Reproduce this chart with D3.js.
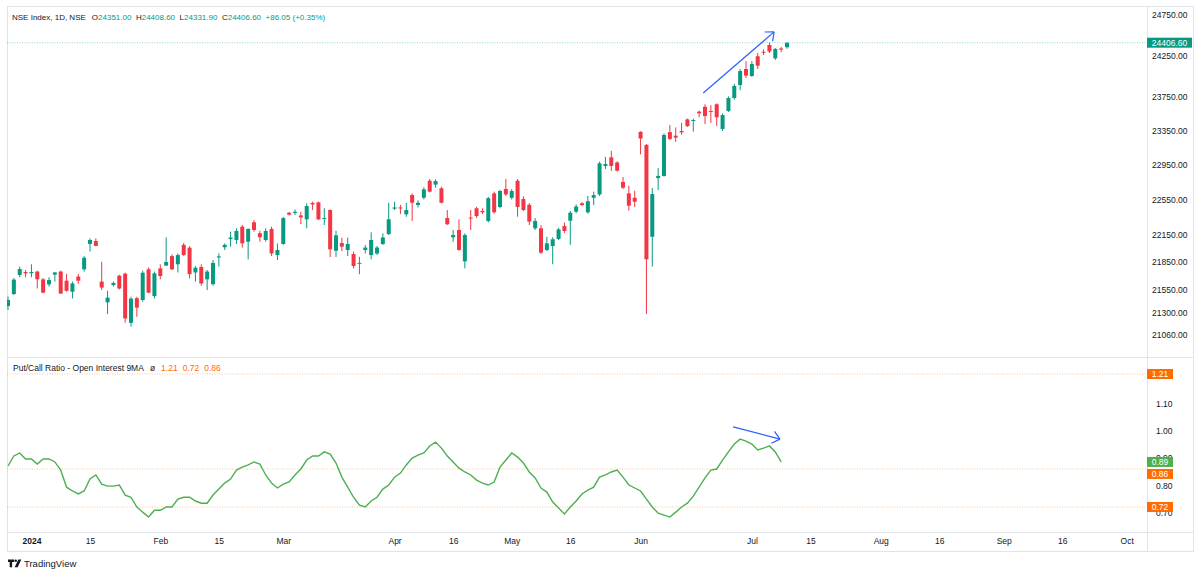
<!DOCTYPE html>
<html>
<head>
<meta charset="utf-8">
<script src="https://cdn.jsdelivr.net/npm/d3@7"></script>
<style>
  body { margin: 0; background: #fff; }
  svg text { font-family: "Liberation Sans", Arial, sans-serif; fill: #131722; }
</style>
</head>
<body>
<svg id="chart" width="1200" height="576"></svg>
<script>
// NSE Index daily bars, Dec 26 2023 .. Jul 9 2024
var opens = [21370,21500,21707,21740,21727,21745,21660,21605,21712,21745,21645,21525,21690,21770,22050,22083,21635,21410,21598,21700,
  21722,21190,21455,21435,21770,21478,21780,21810,21915,21825,22040,22008,21735,21795,21660,21607,21900,22013,22104,22094,
  22243,22075,22292,22170,22094,22218,21927,22050,22400,22397,22370,22325,22512,22518,22330,22431,21975,22060,21983,21938,
  21840,21983,21927,21945,22050,22160,22446,22460,22382,22601,22488,22570,22765,22720,22678,22340,22124,22206,21857,22345,
  22450,22420,22307,22620,22465,22670,22570,22765,22555,22490,22225,22225,21983,22027,22105,22250,22310,22412,22507,22405,
  22570,22608,22935,23035,22975,22750,22620,22570,23333,23180,22130,22795,22820,23330,23288,23343,23480,23462,23572,23630,
  23580,23660,23367,23580,23735,23890,24085,24000,24240,24295,24378,24215,24335,24351]
var highs = [21473,21673,21800,21762,21825,21755,21673,21682,21740,21755,21718,21635,21718,21915,22113,22113,21853,21535,21635,21710,
  21733,21470,21470,21755,21790,21745,21825,22125,21935,21945,22060,22027,21805,21825,21762,21872,21945,22056,22188,22225,
  22262,22225,22318,22198,22225,22243,22056,22350,22408,22438,22412,22506,22525,22525,22450,22438,22198,22120,22120,21965,
  21908,22038,22180,22027,22168,22512,22525,22488,22512,22620,22540,22690,22785,22780,22697,22431,22206,22326,22168,22431,
  22468,22450,22580,22640,22660,22785,22670,22785,22585,22510,22340,22262,22130,22124,22230,22290,22420,22495,22520,22590,
  22640,22985,23040,23110,22990,22808,22705,22650,23340,23190,22680,22910,23316,23414,23385,23440,23490,23490,23585,23660,
  23650,23670,23550,23755,23905,24085,24180,24180,24280,24325,24410,24340,24355,24408.6]
var lows = [21327,21489,21682,21682,21682,21560,21508,21580,21635,21500,21525,21452,21610,21745,21965,22027,21543,21284,21580,21548,
  21190,21150,21255,21417,21508,21452,21660,21810,21760,21735,21915,21670,21635,21590,21543,21590,21800,21983,22020,22050,
  22008,21880,22187,22075,22075,21915,21872,22040,22370,22374,22273,22225,22431,22318,22262,21905,21905,21970,21915,21780,
  21715,21945,21880,21927,22038,22150,22431,22386,22355,22307,22460,22552,22632,22685,22506,22262,22075,21975,21780,22206,
  22340,22386,22290,22390,22450,22590,22550,22355,22420,22262,22206,21940,21970,21825,22094,22170,22040,22395,22475,22390,
  22488,22590,22900,22877,22870,22670,22423,22465,23070,21285,21800,22658,22812,23237,23215,23300,23392,23335,23505,23425,
  23438,23403,23343,23568,23715,23830,23975,23990,24085,24255,24280,24195,24290,24331.9]
var closes = [21435,21657,21773,21725,21740,21660,21515,21652,21735,21505,21535,21615,21645,21897,22094,22027,21570,21460,21620,21560,
  21237,21450,21353,21732,21515,21725,21696,21850,21770,21927,21927,21717,21787,21615,21745,21840,21912,22040,22122,22195,
  22057,22218,22206,22125,22195,21945,21983,22340,22378,22410,22348,22476,22494,22325,22340,21990,22146,22020,22050,21806,
  21830,22010,22094,22010,22122,22326,22460,22450,22431,22513,22513,22666,22640,22760,22513,22270,22150,21983,22150,22335,
  22363,22405,22565,22405,22647,22608,22647,22465,22431,22300,22307,21953,22057,22102,22213,22195,22400,22470,22488,22530,
  22600,22965,22958,22935,22880,22685,22480,22525,23255,21880,22612,22820,23296,23250,23265,23327,23400,23473,23552,23520,
  23570,23505,23532,23735,23880,24060,24005,24145,24125,24285,24298,24330,24320.55,24406.6]

// Put/Call Ratio - Open Interest 9MA (no value yet for the last bar)
var pcr = [0.871,0.908,0.919,0.897,0.897,0.878,0.897,0.897,0.886,0.856,0.793,0.779,0.768,0.779,0.823,0.838,0.804,0.797,0.797,0.801,
  0.764,0.756,0.720,0.701,0.683,0.708,0.708,0.720,0.720,0.749,0.756,0.756,0.742,0.734,0.734,0.764,0.786,0.808,0.823,0.856,
  0.867,0.875,0.886,0.878,0.838,0.808,0.790,0.804,0.812,0.838,0.860,0.893,0.908,0.908,0.923,0.915,0.882,0.830,0.793,0.756,
  0.727,0.720,0.742,0.756,0.786,0.801,0.830,0.845,0.875,0.900,0.911,0.919,0.945,0.959,0.937,0.908,0.886,0.863,0.849,0.838,
  0.819,0.808,0.801,0.812,0.867,0.893,0.919,0.904,0.882,0.849,0.827,0.790,0.775,0.738,0.716,0.694,0.720,0.742,0.768,0.782,
  0.793,0.830,0.838,0.849,0.856,0.830,0.801,0.790,0.779,0.749,0.720,0.697,0.690,0.683,0.701,0.720,0.734,0.760,0.793,0.827,
  0.856,0.860,0.893,0.923,0.952,0.970,0.963,0.952,0.930,0.937,0.945,0.923,0.886]
var pcrLevels = [1.21, 0.72, 0.86]

var priceTicks = [24750, 24250, 23750, 23350, 22950, 22550, 22150, 21850, 21550, 21300, 21060]
var pcrTicks = [0.70, 0.80, 0.90, 1.00, 1.10]
var dateTickIndex = [4, 14, 26, 36, 47, 66, 76, 86, 96, 108, 127, 137, 149, 159, 170, 180, 191]
var dateTickLabels = ["2024", "15", "Feb", "15", "Mar", "Apr", "16", "May", "16", "Jun", "Jul", "15", "Aug", "16", "Sep", "16", "Oct"]

// hand drawn trend arrows: [bar, value] pairs
var priceArrow = [[118.7, 23795], [130.8, 24540]]
var pcrArrow = [[123.8, 1.015], [131.8, 0.970]]

var up = "#089981", down = "#f23645", orange = "#ff6d00", pcrGreen = "#4caf50", blue = "#2962ff", border = "#e0e3eb"
var fs = 8.5

var svg = d3.select("#chart")
var plotL = 7, plotR = 1147, outR = 1193
var plotT = 6, split = 357, axisTop = 532, axisBot = 551

var x = d3.scaleLinear().domain([0, closes.length - 1]).range([8, 787])
var yPrice = d3.scaleLog().domain([21060, 24750]).range([335, 15])
var yPcr = d3.scaleLinear().domain([0.72, 1.21]).range([507, 374])

var defs = svg.append("defs")
defs.append("clipPath").attr("id", "clipTop").append("rect")
    .attr("x", plotL).attr("y", plotT).attr("width", plotR - plotL).attr("height", split - plotT)
defs.append("clipPath").attr("id", "clipBot").append("rect")
    .attr("x", plotL).attr("y", split).attr("width", plotR - plotL).attr("height", axisTop - split)

// frame
svg.append("rect").attr("x", plotL + 0.5).attr("y", plotT + 0.5)
    .attr("width", outR - plotL).attr("height", axisBot - plotT)
    .attr("fill", "none").attr("stroke", border)
svg.append("line").attr("x1", plotL).attr("x2", outR).attr("y1", split + 0.5).attr("y2", split + 0.5).attr("stroke", border)
svg.append("line").attr("x1", plotL).attr("x2", outR).attr("y1", axisTop + 0.5).attr("y2", axisTop + 0.5).attr("stroke", border)
svg.append("line").attr("x1", plotR + 0.5).attr("x2", plotR + 0.5).attr("y1", plotT).attr("y2", axisBot).attr("stroke", border)

// ---- price pane
var gTop = svg.append("g").attr("clip-path", "url(#clipTop)")
var last = closes.length - 1

gTop.append("line")
    .attr("x1", plotL).attr("x2", plotR)
    .attr("y1", yPrice(closes[last])).attr("y2", yPrice(closes[last]))
    .attr("stroke", up).attr("stroke-opacity", 0.4).attr("stroke-dasharray", "1,1.5")

var candles = gTop.selectAll(".candle").data(closes).enter().append("g").attr("class", "candle")
candles.append("line")
    .attr("x1", (d, i) => x(i)).attr("x2", (d, i) => x(i))
    .attr("y1", (d, i) => yPrice(highs[i])).attr("y2", (d, i) => yPrice(lows[i]))
    .attr("stroke", (d, i) => d >= opens[i] ? up : down)
    .attr("stroke-width", 1)
candles.append("rect")
    .attr("x", (d, i) => x(i) - 2)
    .attr("width", 4)
    .attr("y", (d, i) => Math.min(yPrice(opens[i]), yPrice(d)))
    .attr("height", (d, i) => Math.max(1, Math.abs(yPrice(opens[i]) - yPrice(d))))
    .attr("fill", (d, i) => d >= opens[i] ? up : down)

function drawArrow(g, p1, p2) {
    g.append("line").attr("x1", p1[0]).attr("y1", p1[1]).attr("x2", p2[0]).attr("y2", p2[1])
        .attr("stroke", blue).attr("stroke-width", 1.2)
    var ang = Math.atan2(p1[1] - p2[1], p1[0] - p2[0])
    ;[-0.7, 0.7].forEach(function (a) {
        g.append("line").attr("x1", p2[0]).attr("y1", p2[1])
            .attr("x2", p2[0] + 9.5 * Math.cos(ang + a)).attr("y2", p2[1] + 9.5 * Math.sin(ang + a))
            .attr("stroke", blue).attr("stroke-width", 1.2)
    })
}
drawArrow(gTop, [x(priceArrow[0][0]), yPrice(priceArrow[0][1])], [x(priceArrow[1][0]), yPrice(priceArrow[1][1])])

// price axis
var pAxis = svg.append("g").attr("transform", "translate(" + plotR + ",0)")
    .call(d3.axisRight(yPrice).tickValues(priceTicks).tickFormat(d3.format(".2f")).tickSize(0).tickPadding(5))
pAxis.select(".domain").remove()
pAxis.selectAll("text").style("font-size", fs + "px").attr("fill", "#131722")

var lastY = yPrice(closes[last])
svg.append("rect").attr("x", plotR).attr("y", lastY - 5).attr("width", 45).attr("height", 10).attr("fill", up)
svg.append("text").attr("x", plotR + 22.5).attr("y", lastY).attr("dy", "0.35em")
    .attr("text-anchor", "middle").style("font-size", fs + "px").style("fill", "#fff")
    .text(d3.format(".2f")(closes[last]))

// header legend
var chg = closes[last] - closes[last - 1]
var head = svg.append("text").attr("x", 12).attr("y", 17.5).attr("dy", "0.35em").style("font-size", "8px")
head.append("tspan").text("NSE Index, 1D, NSE")
var ohlc = [["O", opens[last]], ["H", highs[last]], ["L", lows[last]], ["C", closes[last]]]
ohlc.forEach(function (e, k) {
    head.append("tspan").attr("dx", k == 0 ? 6 : 4.5).text(e[0])
    head.append("tspan").style("fill", up).text(d3.format(".2f")(e[1]))
})
head.append("tspan").attr("dx", 4.5).style("fill", up)
    .text(d3.format("+.2f")(chg) + " (" + d3.format("+.2%")(chg / closes[last - 1]) + ")")

// ---- PCR pane
var gBot = svg.append("g").attr("clip-path", "url(#clipBot)")
gBot.selectAll(".lvl").data(pcrLevels).enter().append("line")
    .attr("x1", plotL).attr("x2", plotR)
    .attr("y1", d => yPcr(d)).attr("y2", d => yPcr(d))
    .attr("stroke", orange).attr("stroke-opacity", 0.4).attr("stroke-dasharray", "1,1.5")

var line = d3.line().x((d, i) => x(i)).y(d => yPcr(d))
gBot.append("path").attr("d", line(pcr))
    .attr("fill", "none").attr("stroke", pcrGreen).attr("stroke-width", 1.4)
drawArrow(gBot, [x(pcrArrow[0][0]), yPcr(pcrArrow[0][1])], [x(pcrArrow[1][0]), yPcr(pcrArrow[1][1])])

var rAxis = svg.append("g").attr("transform", "translate(" + plotR + ",0)")
    .call(d3.axisRight(yPcr).tickValues(pcrTicks).tickFormat(d3.format(".2f")).tickSize(0).tickPadding(9))
rAxis.select(".domain").remove()
rAxis.selectAll("text").style("font-size", fs + "px").attr("fill", "#131722")

// value boxes on the scale, pushed apart when they overlap
var boxes = pcrLevels.map(v => ({ v: v, c: orange })).concat([{ v: pcr[pcr.length - 1], c: pcrGreen }])
boxes.forEach(b => b.y = yPcr(b.v))
boxes.sort((a, b) => a.y - b.y)
for (var k = 1; k < boxes.length; k++) {
    if (boxes[k].y - boxes[k - 1].y < 12) boxes[k].y = boxes[k - 1].y + 12
}
var bx = svg.selectAll(".box").data(boxes).enter().append("g")
bx.append("rect").attr("x", plotR).attr("y", d => d.y - 5).attr("width", 26).attr("height", 10).attr("fill", d => d.c)
bx.append("text").attr("x", plotR + 13).attr("y", d => d.y).attr("dy", "0.35em")
    .attr("text-anchor", "middle").style("font-size", fs + "px").style("fill", "#fff")
    .text(d => d3.format(".2f")(d.v))

var leg = svg.append("text").attr("x", 13).attr("y", 368.5).attr("dy", "0.35em").style("font-size", fs + "px")
leg.append("tspan").text("Put/Call Ratio - Open Interest 9MA")
leg.append("tspan").attr("dx", 6).text("ø")
pcrLevels.forEach(function (v, k) {
    leg.append("tspan").attr("dx", k == 0 ? 6 : 5).style("fill", orange).text(d3.format(".2f")(v))
})

// ---- date axis
var xAxis = svg.append("g").attr("transform", "translate(0," + axisTop + ")")
    .call(d3.axisBottom(x).tickValues(dateTickIndex).tickFormat((d, i) => dateTickLabels[i]).tickSize(0))
xAxis.select(".domain").remove()
xAxis.selectAll("text").attr("y", 9.5).attr("dy", "0.35em")
    .style("font-size", fs + "px").attr("fill", "#131722")
    .style("font-weight", (d, i) => i == 0 ? "bold" : "normal")

// TradingView mark
var logo = svg.append("g").attr("fill", "#131722")
logo.append("path").attr("d", "M8,559.5h6v2.4h-1.9v5.4h-2.4v-5.4h-1.7z")
logo.append("circle").attr("cx", 15.7).attr("cy", 560.8).attr("r", 1.3)
logo.append("path").attr("d", "M18.3,559.5h3l-3.6,7.8h-3z")
svg.append("text").attr("x", 24).attr("y", 563.5).attr("dy", "0.35em").style("font-size", "9.5px").text("TradingView")
</script>
</body>
</html>
